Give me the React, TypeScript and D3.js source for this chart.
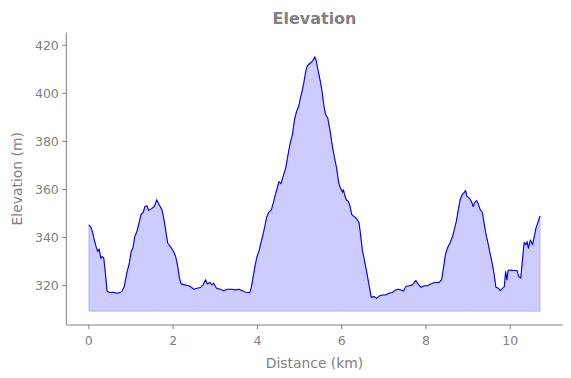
import React from "react";
import * as d3 from "d3";

const distanceKm: number[] = [
  0.0, 0.05, 0.09, 0.13, 0.17, 0.21, 0.245, 0.285, 0.315, 0.355, 0.4, 0.435, 0.505, 0.585, 0.665, 0.745, 0.79, 0.84, 0.9, 0.96,
  1.005, 1.045, 1.09, 1.14, 1.19, 1.24, 1.29, 1.33, 1.38, 1.42, 1.47, 1.54, 1.58, 1.61, 1.65, 1.735, 1.77, 1.81, 1.87, 1.96,
  2.01, 2.06, 2.11, 2.15, 2.19, 2.27, 2.37, 2.41, 2.49, 2.57, 2.65, 2.71, 2.77, 2.81, 2.87, 2.92, 2.96, 3.03, 3.12, 3.2,
  3.28, 3.4, 3.48, 3.56, 3.64, 3.72, 3.82, 3.86, 3.9, 3.94, 3.99, 4.04, 4.08, 4.13, 4.18, 4.22, 4.27, 4.33, 4.38, 4.42,
  4.47, 4.51, 4.56, 4.61, 4.67, 4.72, 4.77, 4.83, 4.88, 4.93, 4.98, 5.02, 5.06, 5.1, 5.14, 5.18, 5.24, 5.28, 5.33, 5.36,
  5.39, 5.42, 5.46, 5.5, 5.54, 5.58, 5.62, 5.67, 5.72, 5.78, 5.83, 5.88, 5.93, 5.97, 6.02, 6.04, 6.07, 6.11, 6.16, 6.2,
  6.24, 6.29, 6.34, 6.41, 6.45, 6.49, 6.53, 6.57, 6.62, 6.67, 6.7, 6.77, 6.83, 6.89, 6.97, 7.04, 7.12, 7.2, 7.28, 7.34,
  7.4, 7.47, 7.52, 7.6, 7.68, 7.76, 7.81, 7.88, 7.96, 8.04, 8.11, 8.21, 8.31, 8.37, 8.42, 8.46, 8.51, 8.57, 8.63, 8.67,
  8.72, 8.76, 8.81, 8.86, 8.91, 8.94, 8.97, 9.03, 9.08, 9.12, 9.16, 9.2, 9.24, 9.29, 9.34, 9.38, 9.42, 9.48, 9.52, 9.58,
  9.62, 9.66, 9.72, 9.76, 9.82, 9.86, 9.89, 9.92, 9.95, 10.0, 10.08, 10.16, 10.2, 10.25, 10.29, 10.33, 10.37, 10.4, 10.43, 10.48,
  10.53, 10.57, 10.61, 10.65, 10.69, 10.71,
];

const elevationM: number[] = [
  345.3, 344.2, 342.0, 339.0, 336.3, 334.2, 335.2, 331.4, 332.1, 331.4, 323.8, 317.5, 317.1, 317.2, 316.8, 317.1, 317.8, 319.6, 325.2, 329.3,
  334.2, 335.6, 340.4, 342.5, 346.0, 349.7, 350.4, 352.9, 353.2, 351.3, 351.8, 352.7, 354.0, 355.7, 354.3, 351.5, 348.8, 344.6, 337.7, 335.6,
  334.2, 332.1, 327.9, 323.1, 320.7, 320.3, 319.9, 319.6, 318.5, 318.9, 319.2, 320.3, 322.4, 320.7, 321.3, 320.3, 321.0, 318.9, 318.5, 317.9,
  318.5, 318.5, 318.2, 318.5, 317.9, 317.2, 317.1, 319.6, 323.8, 327.9, 332.1, 334.5, 337.5, 341.0, 345.0, 348.5, 350.5, 351.5, 354.5, 357.5,
  360.6, 363.3, 362.4, 365.4, 368.9, 373.8, 378.6, 382.8, 389.0, 392.5, 394.6, 398.1, 400.8, 404.3, 408.5, 411.3, 412.4, 412.9, 414.0, 415.2,
  414.0, 411.3, 407.8, 404.3, 400.2, 394.6, 391.1, 389.7, 384.9, 377.9, 373.1, 368.9, 362.7, 360.6, 358.8, 359.9, 357.8, 355.7, 355.0, 352.9,
  349.5, 348.8, 348.1, 346.3, 341.1, 334.9, 331.4, 327.9, 323.1, 318.2, 315.2, 315.4, 314.7, 315.7, 316.1, 316.1, 316.8, 317.1, 318.2, 318.5,
  318.2, 317.8, 319.6, 319.9, 320.3, 322.1, 320.7, 319.3, 319.9, 319.9, 320.7, 321.3, 321.3, 322.4, 327.9, 332.8, 335.6, 337.7, 340.4, 343.2,
  346.7, 350.8, 355.7, 357.8, 358.8, 359.6, 357.1, 356.4, 355.0, 352.9, 354.6, 355.4, 354.0, 351.5, 350.4, 346.0, 341.8, 337.0, 333.5, 328.6,
  324.5, 319.3, 318.9, 317.9, 318.9, 319.6, 325.8, 322.4, 326.3, 326.5, 326.3, 326.3, 323.8, 323.1, 330.7, 337.9, 337.0, 338.3, 335.6, 339.0,
  337.0, 340.4, 343.9, 346.0, 348.1, 349.0,
];

const fillBase = 309.3;
const xTicks: number[] = [0, 2, 4, 6, 8, 10];
const yTicks: number[] = [320, 340, 360, 380, 400, 420];
const titleText = "Elevation";
const xLabelText = "Distance (km)";
const yLabelText = "Elevation (m)";

const W = 571;
const H = 378;
const M = { left: 66.3, right: 562.7, top: 32.5, bottom: 325 };
const GRAY = "#808080";

export default function App() {
  const x = d3.scaleLinear().domain([-0.535, 11.245]).range([M.left, M.right]);
  const y = d3.scaleLinear().domain([303.6, 425.3]).range([M.bottom, M.top]);
  const data = distanceKm.map((d, i) => ({ d, e: elevationM[i] }));

  const area = d3
    .area<{ d: number; e: number }>()
    .x((p) => x(p.d))
    .y0(() => y(fillBase))
    .y1((p) => y(p.e));
  const line = d3
    .line<{ d: number; e: number }>()
    .x((p) => x(p.d))
    .y((p) => y(p.e));

  const font = "DejaVu Sans, sans-serif";

  return (
    <svg
      width={W}
      height={H}
      style={{ position: "absolute", left: 0, top: 0, display: "block" }}
      fontFamily={font}
    >
      <rect width={W} height={H} fill="white" />
      <path
        d={area(data) || ""}
        fill="blue"
        fillOpacity={0.2}
        stroke="blue"
        strokeOpacity={0.2}
        strokeWidth={1}
      />
      <path d={line(data) || ""} fill="none" stroke="blue" strokeWidth={1.1} strokeLinejoin="round" />

      {/* spines */}
      <line x1={M.left} x2={M.left} y1={M.top} y2={M.bottom} stroke={GRAY} strokeWidth={1} />
      <line x1={M.left} x2={M.right} y1={M.bottom} y2={M.bottom} stroke={GRAY} strokeWidth={1} />

      {xTicks.map((t) => (
        <g key={"x" + t}>
          <line x1={x(t)} x2={x(t)} y1={M.bottom} y2={M.bottom + 4} stroke={GRAY} strokeWidth={1} />
          <text x={x(t)} y={M.bottom + 19.5} textAnchor="middle" fontSize={12.5} fill={GRAY}>
            {t}
          </text>
        </g>
      ))}
      {yTicks.map((t) => (
        <g key={"y" + t}>
          <line x1={M.left - 4} x2={M.left} y1={y(t)} y2={y(t)} stroke={GRAY} strokeWidth={1} />
          <text x={M.left - 7.5} y={y(t)} dy="0.36em" textAnchor="end" fontSize={12.5} fill={GRAY}>
            {t}
          </text>
        </g>
      ))}

      <text x={(M.left + M.right) / 2} y={367.5} textAnchor="middle" fontSize={13.9} fill={GRAY}>
        {xLabelText}
      </text>
      <text
        transform={`translate(21.5, ${(M.top + M.bottom) / 2}) rotate(-90)`}
        textAnchor="middle"
        fontSize={13.9}
        fill={GRAY}
      >
        {yLabelText}
      </text>
      <text
        x={(M.left + M.right) / 2}
        y={24}
        textAnchor="middle"
        fontSize={16}
        fontWeight="bold"
        fill={GRAY}
      >
        {titleText}
      </text>
    </svg>
  );
}
